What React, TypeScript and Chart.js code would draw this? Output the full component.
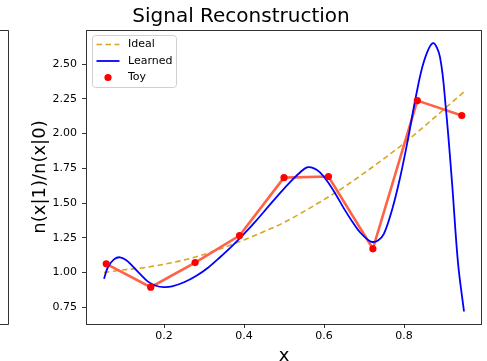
import React, { useEffect, useRef } from "react";
import { Chart, registerables } from "chart.js";

Chart.register(...registerables);

const FONT = '"DejaVu Sans", "Liberation Sans", sans-serif';

const chartTitle = "Signal Reconstruction";
const xAxisTitle = "x";
const yAxisTitle = "n(x|1)/n(x|0)";

const idealX = [0.05, 0.1, 0.15, 0.2, 0.25, 0.3, 0.35, 0.4, 0.45, 0.5, 0.55, 0.6, 0.65, 0.7, 0.75, 0.8, 0.85, 0.9, 0.95];
const idealY = [1.0, 1.02, 1.035, 1.06, 1.09, 1.13, 1.18, 1.235, 1.295, 1.36, 1.44, 1.525, 1.615, 1.715, 1.82, 1.93, 2.05, 2.175, 2.3];

const learnedX = [0.05, 0.06, 0.075, 0.09, 0.105, 0.12, 0.14, 0.16, 0.18, 0.2, 0.22, 0.25, 0.28, 0.31, 0.34, 0.37, 0.4, 0.43, 0.46, 0.49, 0.52, 0.54, 0.5575, 0.575, 0.59, 0.61, 0.63, 0.65, 0.67, 0.69, 0.71, 0.72, 0.735, 0.75, 0.77, 0.79, 0.81, 0.83, 0.85, 0.8725, 0.89, 0.905, 0.92, 0.935, 0.95];
const learnedY = [0.955, 1.04, 1.095, 1.11, 1.09, 1.05, 0.99, 0.935, 0.905, 0.895, 0.9, 0.93, 0.975, 1.035, 1.11, 1.19, 1.278, 1.372, 1.472, 1.572, 1.665, 1.72, 1.757, 1.75, 1.72, 1.65, 1.56, 1.46, 1.37, 1.29, 1.235, 1.22, 1.23, 1.28, 1.45, 1.68, 1.96, 2.27, 2.52, 2.65, 2.55, 2.17, 1.65, 1.07, 0.72];

const toyX = [0.0556, 0.1667, 0.2778, 0.3889, 0.5, 0.6111, 0.7222, 0.8333, 0.9444];
const toyY = [1.063, 0.895, 1.072, 1.266, 1.683, 1.691, 1.171, 2.237, 2.13];

const xTicks = [0.2, 0.4, 0.6, 0.8];
const xTickLabels = ["0.2", "0.4", "0.6", "0.8"];
const yTicks = [0.75, 1.0, 1.25, 1.5, 1.75, 2.0, 2.25, 2.5];
const yTickLabels = ["0.75", "1.00", "1.25", "1.50", "1.75", "2.00", "2.25", "2.50"];

const legendLabels = ["Ideal", "Learned", "Toy"];

const IDEAL_COLOR = "#DAA520";
const LEARNED_COLOR = "#0000ff";
const TOY_LINE_COLOR = "#ff6347";
const TOY_POINT_COLOR = "#ff0000";

const pts = (xs: number[], ys: number[]) => xs.map((x, i) => ({ x, y: ys[i] }));

const framePlugin = {
  id: "frame",
  afterDraw(chart: any) {
    const { ctx, chartArea } = chart;
    const { left, top, right, bottom } = chartArea;
    ctx.save();
    ctx.strokeStyle = "rgba(0,0,0,0.8)";
    ctx.lineWidth = 1;
    ctx.strokeRect(Math.round(left) + 0.5, Math.round(top) + 0.5, Math.round(right - left) - 1, Math.round(bottom - top));
    // neighbouring subplot's right edge
    ctx.beginPath();
    ctx.moveTo(0, Math.round(top) + 0.5);
    ctx.lineTo(8.5, Math.round(top) + 0.5);
    ctx.lineTo(8.5, Math.round(bottom) + 0.5);
    ctx.lineTo(0, Math.round(bottom) + 0.5);
    ctx.stroke();

    // legend
    const bx = left + 6.5, by = top + 5.5, bw = 84, bh = 52;
    ctx.beginPath();
    const r = 3;
    ctx.moveTo(bx + r, by);
    ctx.lineTo(bx + bw - r, by);
    ctx.quadraticCurveTo(bx + bw, by, bx + bw, by + r);
    ctx.lineTo(bx + bw, by + bh - r);
    ctx.quadraticCurveTo(bx + bw, by + bh, bx + bw - r, by + bh);
    ctx.lineTo(bx + r, by + bh);
    ctx.quadraticCurveTo(bx, by + bh, bx, by + bh - r);
    ctx.lineTo(bx, by + r);
    ctx.quadraticCurveTo(bx, by, bx + r, by);
    ctx.closePath();
    ctx.fillStyle = "rgba(255,255,255,0.8)";
    ctx.fill();
    ctx.strokeStyle = "#d0d0d0";
    ctx.lineWidth = 1;
    ctx.stroke();

    const rowY = [by + 9, by + 25.5, by + 42];
    const hx0 = bx + 4, hx1 = bx + 27;
    ctx.lineWidth = 1.6;
    ctx.strokeStyle = IDEAL_COLOR;
    ctx.setLineDash([5.5, 3.5]);
    ctx.beginPath();
    ctx.moveTo(hx0, rowY[0]);
    ctx.lineTo(hx1, rowY[0]);
    ctx.stroke();
    ctx.setLineDash([]);
    ctx.strokeStyle = LEARNED_COLOR;
    ctx.lineWidth = 1.8;
    ctx.beginPath();
    ctx.moveTo(hx0, rowY[1]);
    ctx.lineTo(hx1, rowY[1]);
    ctx.stroke();
    ctx.fillStyle = TOY_POINT_COLOR;
    ctx.beginPath();
    ctx.arc((hx0 + hx1) / 2, rowY[2], 3.6, 0, Math.PI * 2);
    ctx.fill();

    ctx.fillStyle = "#000";
    ctx.font = `11px ${FONT}`;
    ctx.textBaseline = "middle";
    ctx.textAlign = "left";
    legendLabels.forEach((t, i) => ctx.fillText(t, bx + 35.5, rowY[i]));
    ctx.restore();
  },
};

export default function App() {
  const ref = useRef<HTMLCanvasElement | null>(null);

  useEffect(() => {
    if (!ref.current) return;
    const chart = new Chart(ref.current, {
      type: "line",
      data: {
        datasets: [
          {
            label: "Toy",
            type: "scatter",
            data: pts(toyX, toyY),
            backgroundColor: TOY_POINT_COLOR,
            borderColor: TOY_POINT_COLOR,
            pointRadius: 3.6,
            pointBorderWidth: 0,
            showLine: false,
            order: 0,
          } as any,
          {
            label: "Learned",
            data: pts(learnedX, learnedY),
            borderColor: LEARNED_COLOR,
            borderWidth: 1.8,
            pointRadius: 0,
            tension: 0.35,
            fill: false,
            order: 1,
          },
          {
            label: "ToyLine",
            data: pts(toyX, toyY),
            borderColor: TOY_LINE_COLOR,
            borderWidth: 2.6,
            pointRadius: 0,
            tension: 0,
            fill: false,
            order: 2,
          },
          {
            label: "Ideal",
            data: pts(idealX, idealY),
            borderColor: IDEAL_COLOR,
            borderWidth: 1.6,
            borderDash: [5.5, 3.5],
            pointRadius: 0,
            cubicInterpolationMode: "monotone",
            fill: false,
            order: 3,
          },
        ],
      },
      options: {
        animation: false,
        responsive: false,
        devicePixelRatio: 1,
        layout: { padding: { left: 0, right: 5, top: 0, bottom: 0 } },
        plugins: {
          legend: { display: false },
          tooltip: { enabled: false },
          title: {
            display: true,
            text: chartTitle,
            color: "#000",
            font: { family: FONT, size: 20, weight: "normal", lineHeight: 1.2 },
            padding: { top: 5, bottom: 1 },
          },
        },
        scales: {
          x: {
            type: "linear",
            min: 0.005,
            max: 0.995,
            afterFit: (s: any) => {
              s.height = 37;
            },
            afterBuildTicks: (s: any) => {
              s.ticks = xTicks.map((v) => ({ value: v }));
            },
            ticks: {
              color: "#000",
              font: { family: FONT, size: 11 },
              padding: 2,
              maxRotation: 0,
              autoSkip: false,
              callback: (_v: any, i: number) => xTickLabels[i],
            },
            grid: { display: true, drawOnChartArea: false, drawTicks: true, tickLength: 4, color: "#000", lineWidth: 0.8 },
            border: { display: false },
            title: {
              display: true,
              text: xAxisTitle,
              color: "#000",
              font: { family: FONT, size: 18, lineHeight: 0.55 },
              padding: { top: 0, bottom: 0 },
            },
          },
          y: {
            type: "linear",
            min: 0.63,
            max: 2.745,
            afterFit: (s: any) => {
              s.width = 86;
            },
            afterBuildTicks: (s: any) => {
              s.ticks = yTicks.map((v) => ({ value: v }));
            },
            ticks: {
              color: "#000",
              font: { family: FONT, size: 11 },
              padding: 5,
              autoSkip: false,
              callback: (_v: any, i: number) => yTickLabels[i],
            },
            grid: { display: true, drawOnChartArea: false, drawTicks: true, tickLength: 4, color: "#000", lineWidth: 0.8 },
            border: { display: false },
            title: {
              display: true,
              text: yAxisTitle,
              color: "#000",
              font: { family: FONT, size: 18, lineHeight: 1.2 },
              padding: { top: 30, bottom: 0 },
            },
          },
        },
      },
      plugins: [framePlugin],
    } as any);
    return () => chart.destroy();
  }, []);

  return (
    <div style={{ position: "absolute", left: 0, top: 0, width: 487, height: 361, background: "#fff" }}>
      <canvas ref={ref} width={487} height={361} style={{ display: "block", width: 487, height: 361 }} />
    </div>
  );
}
